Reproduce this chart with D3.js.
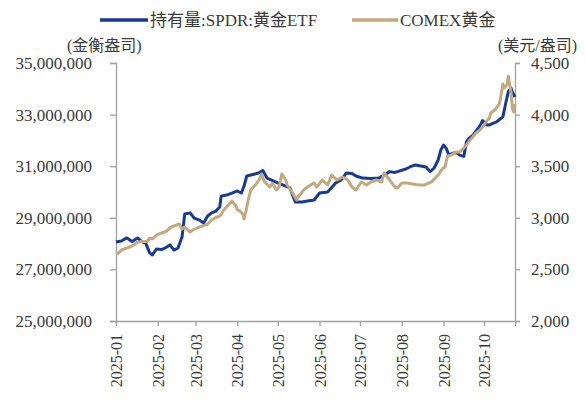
<!DOCTYPE html>
<html>
<head>
<meta charset="utf-8">
<script src="https://cdn.jsdelivr.net/npm/d3@7"></script>
<style>
  html, body { margin: 0; padding: 0; background: #fff; }
  svg { display: block; }
  text { font-family: "Liberation Serif", "Noto Sans CJK SC", serif; fill: #3a3a3a; }
</style>
</head>
<body>
<svg id="chart" width="585" height="399"></svg>
<script>
// ---------- data ----------
const legendLabels = ["持有量:SPDR:黄金ETF", "COMEX黄金"];
const leftUnit = "(金衡盎司)";
const rightUnit = "(美元/盎司)";
const leftTicks = [25000000, 27000000, 29000000, 31000000, 33000000, 35000000];
const rightTicks = [2000, 2500, 3000, 3500, 4000, 4500];
const monthTicks = ["2025-01","2025-02","2025-03","2025-04","2025-05","2025-06","2025-07","2025-08","2025-09","2025-10"];
const xDomain = ["2025-01-01", "2025-10-24"];

const spdrDates = ["2025-01-01","2025-01-05","2025-01-09","2025-01-13","2025-01-17","2025-01-20","2025-01-23","2025-01-26","2025-01-28","2025-01-31",
"2025-02-04","2025-02-07","2025-02-10","2025-02-13","2025-02-16","2025-02-19","2025-02-21","2025-02-25","2025-02-28",
"2025-03-04","2025-03-07","2025-03-10","2025-03-13","2025-03-16","2025-03-19","2025-03-20","2025-03-24","2025-03-28",
"2025-04-01","2025-04-04","2025-04-06","2025-04-08","2025-04-14","2025-04-17","2025-04-20","2025-04-23","2025-04-26",
"2025-05-01","2025-05-06","2025-05-10","2025-05-14","2025-05-19","2025-05-23","2025-05-28",
"2025-06-01","2025-06-07","2025-06-13","2025-06-17","2025-06-21","2025-06-25","2025-06-28",
"2025-07-03","2025-07-09","2025-07-15","2025-07-19","2025-07-23","2025-07-27","2025-07-30",
"2025-08-04","2025-08-07","2025-08-11","2025-08-15","2025-08-19","2025-08-22","2025-08-25","2025-08-28","2025-08-30",
"2025-09-01","2025-09-03","2025-09-05","2025-09-08","2025-09-11","2025-09-13","2025-09-16","2025-09-18","2025-09-20","2025-09-23","2025-09-25","2025-09-28","2025-09-30",
"2025-10-03","2025-10-05","2025-10-08","2025-10-10","2025-10-12","2025-10-15","2025-10-17","2025-10-19","2025-10-21","2025-10-22","2025-10-24"];
const spdrValues = [28060000,28100000,28220000,28080000,28220000,28080000,28020000,27640000,27560000,27790000,
27770000,27850000,27950000,27750000,27830000,28260000,29150000,29190000,28990000,
28910000,28800000,29070000,29190000,29260000,29420000,29840000,29880000,29960000,
30040000,29960000,30230000,30620000,30700000,30740000,30830000,30540000,30470000,
30350000,30250000,30160000,29610000,29610000,29650000,29690000,
29960000,30000000,30350000,30470000,30740000,30720000,30620000,
30540000,30520000,30540000,30660000,30790000,30760000,30810000,
30890000,30970000,31050000,31010000,30970000,30790000,30930000,31240000,31630000,
31820000,31690000,31430000,31510000,31510000,31430000,31380000,31940000,32090000,32210000,32360000,32560000,32770000,
32600000,32600000,32670000,32710000,32790000,32910000,33410000,33880000,34030000,33880000,33680000];

const goldDates = ["2025-01-01","2025-01-03","2025-01-05","2025-01-09","2025-01-11","2025-01-13","2025-01-17","2025-01-20","2025-01-24","2025-01-26","2025-01-28","2025-01-31",
"2025-02-04","2025-02-07","2025-02-11","2025-02-15","2025-02-17","2025-02-19","2025-02-21","2025-02-25","2025-02-27",
"2025-03-02","2025-03-04","2025-03-07","2025-03-10","2025-03-13","2025-03-16","2025-03-19","2025-03-22","2025-03-26","2025-03-28","2025-03-31",
"2025-04-01","2025-04-03","2025-04-05","2025-04-06","2025-04-08","2025-04-09","2025-04-11","2025-04-15","2025-04-17","2025-04-19","2025-04-21","2025-04-25","2025-04-27","2025-04-30",
"2025-05-02","2025-05-04","2025-05-07","2025-05-08","2025-05-12","2025-05-15","2025-05-16","2025-05-19","2025-05-21","2025-05-24","2025-05-28","2025-05-30",
"2025-06-03","2025-06-07","2025-06-10","2025-06-14","2025-06-18","2025-06-22","2025-06-25","2025-06-28",
"2025-07-02","2025-07-06","2025-07-09","2025-07-13","2025-07-17","2025-07-19","2025-07-23","2025-07-27","2025-07-29",
"2025-08-01","2025-08-05","2025-08-09","2025-08-13","2025-08-18","2025-08-23","2025-08-28","2025-08-31",
"2025-09-02","2025-09-04","2025-09-07","2025-09-10","2025-09-13","2025-09-16","2025-09-18","2025-09-20","2025-09-22","2025-09-25","2025-09-28",
"2025-10-01","2025-10-03","2025-10-05","2025-10-06","2025-10-09","2025-10-12","2025-10-13","2025-10-15","2025-10-16","2025-10-18","2025-10-19","2025-10-21","2025-10-22","2025-10-23","2025-10-24"];
const goldValues = [2649,2659,2688,2707,2717,2727,2766,2770,2770,2804,2795,2833,
2853,2867,2911,2930,2940,2891,2911,2862,2882,
2901,2911,2925,2940,2979,3003,3017,3076,3134,3163,3114,
3076,3066,3037,2988,3095,3172,3269,3328,3366,3424,3352,3298,3332,3269,
3298,3424,3366,3318,3240,3172,3202,3250,3279,3308,3337,3298,
3366,3318,3415,3366,3395,3366,3298,3269,
3347,3318,3347,3366,3347,3434,3366,3298,3289,
3337,3337,3327,3318,3318,3347,3415,3473,
3492,3599,3608,3638,3638,3676,3705,3744,3773,3822,3851,
3899,3938,3967,4016,4045,4093,4141,4297,4258,4287,4374,4219,4064,4025,4103];

// ---------- layout ----------
const W = 585, H = 399;
const margin = {top: 63, right: 70, bottom: 78, left: 116};
const colors = {spdr: "#173a98", gold: "#c3a97f", axis: "#a0a0a0"};
const FS = 17;

const parse = d3.timeParse("%Y-%m-%d");
const parseM = d3.timeParse("%Y-%m");
const svg = d3.select("#chart");

const x = d3.scaleTime().domain(xDomain.map(parse)).range([margin.left, W - margin.right]);
const yL = d3.scaleLinear().domain([leftTicks[0], leftTicks[leftTicks.length - 1]]).range([H - margin.bottom, margin.top]);
const yR = d3.scaleLinear().domain([rightTicks[0], rightTicks[rightTicks.length - 1]]).range([H - margin.bottom, margin.top]);

const spdr = spdrDates.map((d, i) => ({date: parse(d), v: spdrValues[i]}));
const gold = goldDates.map((d, i) => ({date: parse(d), v: goldValues[i]}));

function styleAxis(g) {
  g.select(".domain").attr("stroke", colors.axis).attr("stroke-width", 1.3);
  g.selectAll(".tick line").attr("stroke", colors.axis).attr("stroke-width", 1.3);
  g.selectAll(".tick text").style("font-size", FS + "px").attr("fill", "#3a3a3a");
}

// left axis
svg.append("g")
  .attr("transform", `translate(${margin.left},0)`)
  .call(d3.axisLeft(yL).tickValues(leftTicks).tickFormat(d3.format(",")).tickSizeOuter(0).tickSize(6).tickPadding(18))
  .call(styleAxis);

// right axis
svg.append("g")
  .attr("transform", `translate(${W - margin.right},0)`)
  .call(d3.axisRight(yR).tickValues(rightTicks).tickFormat(d3.format(",")).tickSizeOuter(0).tickSize(5).tickPadding(11))
  .call(styleAxis);

// bottom axis
const xAxisG = svg.append("g")
  .attr("transform", `translate(0,${H - margin.bottom})`)
  .call(d3.axisBottom(x).tickValues(monthTicks.map(parseM)).tickFormat(d3.timeFormat("%Y-%m")).tickSizeOuter(0).tickSize(5))
  .call(styleAxis);
xAxisG.selectAll(".tick text")
  .attr("transform", "rotate(-90)")
  .attr("text-anchor", "end")
  .attr("x", -13)
  .attr("y", 0)
  .attr("dy", "0.35em")
  .style("font-size", "16px");

// lines
const lineL = d3.line().x(d => x(d.date)).y(d => yL(d.v));
const lineR = d3.line().x(d => x(d.date)).y(d => yR(d.v));

svg.append("path").datum(spdr)
  .attr("fill", "none").attr("stroke", colors.spdr).attr("stroke-width", 3)
  .attr("stroke-linejoin", "round").attr("d", lineL);
svg.append("path").datum(gold)
  .attr("fill", "none").attr("stroke", colors.gold).attr("stroke-width", 3)
  .attr("stroke-linejoin", "round").attr("d", lineR);

// unit labels
svg.append("text").attr("x", 67).attr("y", 45).attr("dy", "0.35em")
  .style("font-size", "16px").text(leftUnit);
svg.append("text").attr("x", 577).attr("y", 45).attr("dy", "0.35em")
  .attr("text-anchor", "end").style("font-size", "16px").text(rightUnit);

// legend
const legend = [
  {label: legendLabels[0], color: colors.spdr, x0: 100, x1: 148},
  {label: legendLabels[1], color: colors.gold, x0: 352, x1: 398}
];
legend.forEach(l => {
  svg.append("line").attr("x1", l.x0).attr("x2", l.x1).attr("y1", 20).attr("y2", 20)
    .attr("stroke", l.color).attr("stroke-width", 3.5);
  svg.append("text").attr("x", l.x1 + 2).attr("y", 20).attr("dy", "0.35em")
    .style("font-size", FS + "px").text(l.label);
});
</script>
</body>
</html>
